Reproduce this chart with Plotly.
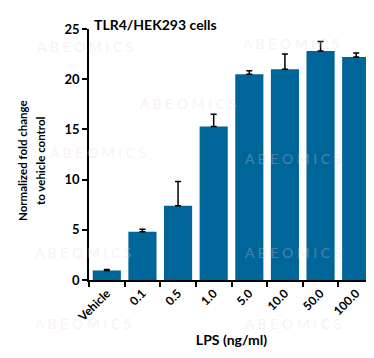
import plotly.graph_objects as go

categories = ["Vehicle", "0.1", "0.5", "1.0", "5.0", "10.0", "50.0", "100.0"]
values = [0.95, 4.8, 7.4, 15.3, 20.5, 21.0, 22.8, 22.2]
errors = [0.1, 0.25, 2.4, 1.2, 0.35, 1.5, 0.95, 0.4]
y_ticks = [0, 5, 10, 15, 20, 25]
y_title_lines = ["Normalized fold change", "to vehicle control"]

font_family = "Lato"

fig = go.Figure()
fig.add_trace(go.Bar(
    x=categories, y=values,
    marker=dict(color="#006699", line=dict(width=0)),
    error_y=dict(type="data", array=errors, arrayminus=[0]*len(errors), symmetric=False,
                 color="black", thickness=1.5, width=3),
    width=0.79,
))

# faint watermarks (paper coords)
wm = [(-0.19, 0.932), (0.533, 0.944), (0.172, 0.705), (-0.144, 0.506), (0.54, 0.486),
      (-0.196, 0.108), (0.54, 0.108), (-0.196, -0.172), (0.54, -0.172)]
for (x, y) in wm:
    fig.add_annotation(text="A B E O M I C S", xref="paper", yref="paper", x=x, y=y,
                       showarrow=False, xanchor="left", yanchor="middle",
                       font=dict(family="Lato", size=14, color="rgba(235,205,215,0.3)"))

# y-axis title as two rotated lines
for line, px in zip(y_title_lines, [14, 32]):
    fig.add_annotation(text=f"<b>{line}</b>", xref="paper", yref="paper",
                       x=(px - 81) / 285, y=(272 - 153) / 251, textangle=-90,
                       showarrow=False, xanchor="center", yanchor="middle",
                       font=dict(family=font_family, size=11.5, color="black"))

fig.update_layout(
    width=374, height=358,
    margin=dict(l=81, r=8, t=21, b=86),
    paper_bgcolor="white", plot_bgcolor="white",
    showlegend=False,
    font=dict(family=font_family, color="black"),
    title=dict(text="<b>TLR4/HEK293 cells</b>", x=86/374, xanchor="left", y=1-17/358, yanchor="middle",
               font=dict(size=14, family=font_family, color="black")),
    xaxis=dict(
        tickangle=-45, tickfont=dict(size=12, family=font_family, color="black", weight="bold"),
        showline=True, linecolor="black", linewidth=1.5,
        ticks="outside", ticklen=5, tickcolor="black", tickwidth=1.5,
        tickson="boundaries",
        title=dict(text="<b>LPS (ng/ml)</b>", font=dict(size=14, family=font_family), standoff=12),
        range=[-0.5, 7.5],
    ),
    yaxis=dict(
        range=[0, 25], tickvals=y_ticks,
        tickfont=dict(size=13, family=font_family, color="black", weight="bold"),
        showline=True, linecolor="black", linewidth=1.5,
        ticks="outside", ticklen=5, tickcolor="black", tickwidth=1.5,
        showgrid=False, zeroline=False,
    ),
)
fig.write_html("out.html")
